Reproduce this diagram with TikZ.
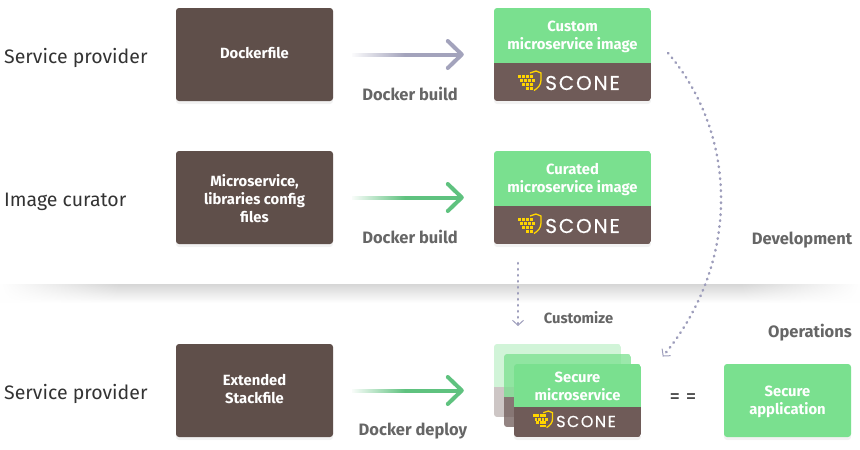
\documentclass[tikz,border=0pt]{standalone}
\usepackage{fontspec}
\setmainfont{Fira Sans}
\newfontfamily\sconefont[LetterSpace=9,FakeBold=0.4]{Poppins}
\usepackage{tikz}
\usetikzlibrary{arrows.meta,shadows,fadings,positioning}
\definecolor{darkbrown}{HTML}{5F4F4A}
\definecolor{logobrown}{HTML}{6F5B58}
\definecolor{cardgreen}{HTML}{7AE08F}
\definecolor{flowgreen}{HTML}{5FC27F}
\definecolor{flowgray}{HTML}{A3A3BC}
\definecolor{dotgray}{HTML}{9D9DBB}
\definecolor{sconeyellow}{HTML}{FFD500}
\definecolor{labelgray}{HTML}{666666}
\tikzset{
  softshadow/.style={drop shadow={opacity=.1,shadow xshift=0pt,shadow yshift=-3pt}},
  srcbox/.style={rectangle,rounded corners=3pt,fill=darkbrown,minimum width=157pt,minimum height=93pt,inner sep=0pt,softshadow},
  card/.style n args={3}{rectangle,rounded corners=3pt,minimum width=#1,minimum height=#2,inner sep=0pt,
    path picture={
      \fill[cardgreen,sharp corners] (path picture bounding box.north west) rectangle ++(#1,-#3);
      \fill[logobrown,sharp corners] ([yshift=-#3]path picture bounding box.north west) rectangle (path picture bounding box.south east);}},
  boxtext/.style={text=white,font=\bfseries\fontsize{14.8}{18}\selectfont,align=center},
  rolelabel/.style={anchor=base west,inner sep=0pt,text=black!80,font=\fontsize{19.5}{24}\selectfont},
  steplabel/.style={text=labelgray,font=\bfseries\fontsize{16.5}{20}\selectfont},
  flow/.style={line width=4pt,draw=#1,shorten <=19pt,shorten >=30pt,
    -{Straight Barb[length=14pt,width=27pt,line width=4pt,round]}},
  dotline/.style={draw=dotgray,line width=2.6pt,line cap=round,dash pattern=on 0.6pt off 5.4pt,
    -{Straight Barb[length=5pt,width=11pt,line width=1pt,sep=-2pt]}},
  sconemark/.pic={
    \foreach \dx/\dy in {0/4,4/4,8/4,12/4,2/8,6/8,10/8,14/8,4/12,8/12,12/12,8/16,12/16}
      \fill[sconeyellow] (\dx,\dy) rectangle ++(3.2,3.2);
    \draw[sconeyellow,line width=1.3pt] (12,2) -- (18,0) -- (23,2) -- (23,9) .. controls (23,14) and (20,17) .. (16,19.5);
  }
}
\begin{document}
\begin{tikzpicture}[x=1pt,y=-1pt]
  \useasboundingbox (0,0) rectangle (860,450);
  % divider
  \shade[top color=black!16,bottom color=white] (0,284) rectangle (860,303);
  \fill[white,path fading=east] (0,283) rectangle (120,304);
  \fill[white,path fading=west] (740,283) rectangle (860,304);
  % left side
  \node[srcbox] (dockerfile) at (254.5,54.5) {};
  \node[srcbox] (microservice) at (254.5,197.5) {};
  \node[srcbox] (stackfile) at (254.5,390.5) {};
  \node[boxtext,yshift=1.5pt] (dockerfiletext) at (dockerfile) {Dockerfile};
  \node[boxtext,yshift=-1pt] (microservicetext) at (microservice) {Microservice,\\libraries config\\files};
  \node[boxtext,yshift=1.5pt] (stackfiletext) at (stackfile) {Extended\\Stackfile};
  % images
  \node[card={157pt}{93pt}{55pt},softshadow] (custom) at (572.5,54.5) {};
  \node[card={157pt}{93pt}{55pt},softshadow] (curated) at (572.5,197.5) {};
  \node[boxtext,below=10pt of custom.north] (customtext) {Custom\\microservice image};
  \node[boxtext,below=9pt of curated.north] (curatedtext) {Curated\\microservice image};
  \node[text=white,font=\sconefont\fontsize{20}{20}\selectfont] (scone1) at (582.5,83) {SCONE};
  \node[text=white,font=\sconefont\fontsize{20}{20}\selectfont] (scone2) at (582.5,226) {SCONE};
  \pic at (518,71) {sconemark};
  \pic at (518,214) {sconemark};
  % stack
  \node[card={127pt}{73pt}{43pt},opacity=.35] (secure3) at (557.5,380.5) {};
  \node[card={127pt}{73pt}{43pt},opacity=.75] (secure2) at (567.5,390.5) {};
  \node[card={127pt}{73pt}{43pt},softshadow] (secure1) at (577.5,400.5) {};
  \node[boxtext,below=5pt of secure1.north] (securetext) {Secure\\microservice};
  \node[text=white,font=\sconefont\fontsize{16}{16}\selectfont] (scone3) at (586,421.5) {SCONE};
  \pic[scale=.85] at (533,411) {sconemark};
  \node[rectangle,rounded corners=3pt,fill=cardgreen,minimum width=127pt,minimum height=73pt,inner sep=0pt,softshadow] (app) at (787.5,400.5) {};
  \node[boxtext,yshift=-1pt] (apptext) at (app) {Secure\\application};
  % labels
  \node[rolelabel] (role1) at (4,63) {Service provider};
  \node[rolelabel] (role2) at (4,206) {Image curator};
  \node[rolelabel] (role3) at (4,399) {Service provider};
  \node[steplabel] (build1) at (410,94) {Docker build};
  \node[steplabel] (build2) at (410,237) {Docker build};
  \node[steplabel] (deploy) at (413,431.5) {Docker deploy};
  \node[steplabel] (dev) at (802,240.5) {Development};
  \node[steplabel] (ops) at (810,332.5) {Operations};
  \node[steplabel,font=\bfseries\fontsize{14.8}{18}\selectfont] (customize) at (578.5,318) {Customize};
  \node[text=black!80,font=\fontsize{21}{21}\selectfont] (equal) at (683,399) {= =};
  % arrows
  \draw[flow=flowgray] (dockerfile) -- (custom);
  \draw[flow=flowgreen] (microservice) -- (curated);
  \draw[flow=flowgreen] (stackfile) -- (stackfile-|secure3.west);
  \foreach \y in {54.5,197.5,390.5}
    \fill[white,path fading=east] (350,\y-4) rectangle (405,\y+4);
  \coordinate (devstart) at (668,53);
  \coordinate (devend) at (664,355);
  \coordinate (custstart) at (518,263);
  \coordinate (custend) at (518,324);
  \draw[dotline] (devstart) .. controls (738,135) and (741,262) .. (devend);
  \draw[dotline] (custstart) -- (custend);
\end{tikzpicture}
\end{document}
